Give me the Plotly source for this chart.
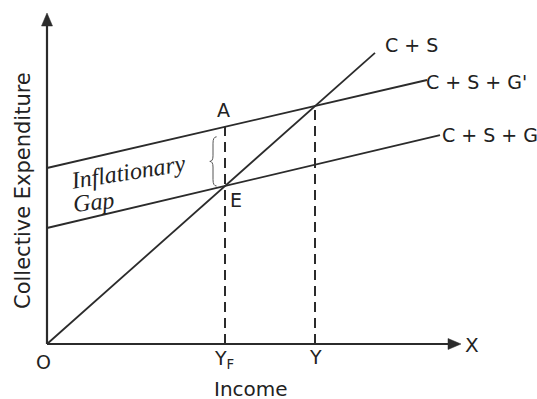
import plotly.graph_objects as go

# ---- data (abstract income / expenditure units) ----
cs_x = [0, 82]            # C + S
cs_y = [0, 72.8]
csg2_x = [0, 95]          # C + S + G'
csg2_y = [44, 66]
csg_x = [0, 98.25]        # C + S + G
csg_y = [29, 52.2]

y_full = 44.5             # Y_F
y_new = 67                # Y
a_level = 54.3            # point A on C+S+G'
e_level = 39.5            # point E
y_new_level = 59.5        # intersection of C+S and C+S+G'

x_axis_end = 103.5
y_axis_end = 82.75

line_col = "#2b2b2b"
sans = "DejaVu Sans"

fig = go.Figure()

def seg(xs, ys, width=1.8, dash=None):
    fig.add_trace(go.Scatter(x=xs, y=ys, mode="lines",
                             line=dict(color=line_col, width=width, dash=dash),
                             hoverinfo="skip", showlegend=False))

# axes
seg([0, x_axis_end - 3], [0, 0], width=2.2)
seg([0, 0], [0, y_axis_end - 3], width=2.2)
# schedules
seg(cs_x, cs_y)
seg(csg2_x, csg2_y)
seg(csg_x, csg_y)
# dashed verticals
seg([y_full, y_full], [0, a_level], width=2, dash="10px,6px")
seg([y_new, y_new], [0, y_new_level], width=2, dash="10px,6px")

shapes = [
    dict(type="path", xref="x", yref="y",
         path=f"M {x_axis_end-3.25},-1.375 L {x_axis_end},0 L {x_axis_end-3.25},1.375 Z",
         fillcolor=line_col, line=dict(color=line_col, width=0.5)),
    dict(type="path", xref="x", yref="y",
         path=f"M -1.375,{y_axis_end-3.25} L 0,{y_axis_end} L 1.375,{y_axis_end-3.25} Z",
         fillcolor=line_col, line=dict(color=line_col, width=0.5)),
]
# brace between A and E
bt, bb = a_level - 2.5, e_level + 0.0
bm = (bt + bb) / 2
bx = y_full - 3.0
brace = (f"M {bx+0.9},{bt} Q {bx},{bt} {bx},{bt-1.6} L {bx},{bm+1.4} "
         f"Q {bx},{bm} {bx-0.8},{bm} Q {bx},{bm} {bx},{bm-1.4} "
         f"L {bx},{bb+1.6} Q {bx},{bb} {bx+0.9},{bb}")
shapes.append(dict(type="path", xref="x", yref="y", path=brace,
                   line=dict(color="#555555", width=1)))

def ann(text, x, y, size=19, family=sans, angle=0, xanchor="center", italic=False):
    return dict(text=text, x=x, y=y, xref="x", yref="y", showarrow=False,
                textangle=angle, xanchor=xanchor, yanchor="middle",
                font=dict(family=family, size=size, color="#222222",
                          style="italic" if italic else "normal"))

annotations = [
    ann("C + S", 91, 74.75),
    ann("C + S + G'", 107.25, 65.5),
    ann("C + S + G", 110.75, 52.25),
    ann("A", 44, 58.5),
    ann("E", 47.25, 36),
    ann("Inflationary", 20.25, 43, size=24, family="Liberation Serif", angle=-9, italic=True),
    ann("Gap", 11.5, 35.5, size=24, family="Liberation Serif", angle=-6, italic=True),
    ann("O", -1, -4.5),
    ann("Y<sub>F</sub>", 44.2, -3.9),
    ann("Y", 67, -3.25),
    ann("X", 106.25, -0.25, size=20),
    ann("Income", 51, -11.2, size=20),
    ann("Collective Expenditure", -6.0, 38.25, size=21, angle=-90),
]

fig.update_layout(
    width=537, height=399,
    margin=dict(l=0, r=0, t=0, b=0),
    paper_bgcolor="white", plot_bgcolor="white",
    xaxis=dict(range=[-11.75, 122.5], visible=False, fixedrange=True),
    yaxis=dict(range=[-13.75, 86], visible=False, fixedrange=True),
    shapes=shapes, annotations=annotations,
)

fig.write_html("out.html", config=dict(displayModeBar=False),
               post_script="document.body.style.margin='0';document.body.style.overflow='hidden';")
